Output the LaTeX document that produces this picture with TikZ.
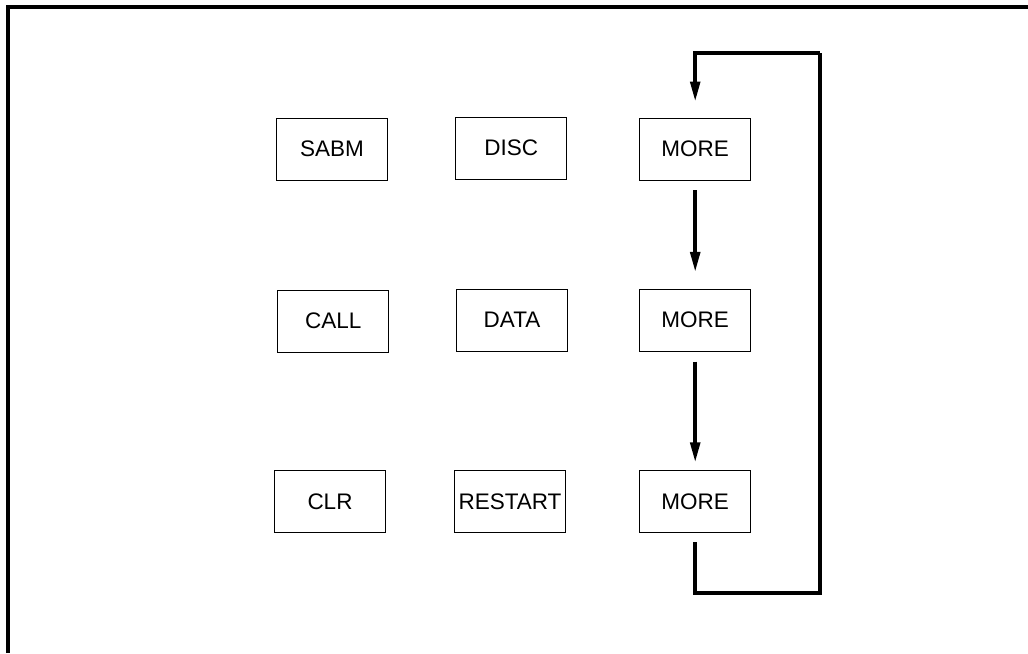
\documentclass[tikz,border=0pt]{standalone}
\usepackage{fontspec}
\setmainfont{Liberation Sans}
\usetikzlibrary{arrows.meta}

\begin{document}
\begin{tikzpicture}[
    key/.style={draw, line width=0.6pt, minimum width=2.78cm, minimum height=1.55cm,
                inner sep=0pt, font=\fontsize{16}{19}\selectfont},
    flow/.style={line width=2.6pt, -{Triangle[length=0.5cm, width=0.24cm]}},
    loopline/.style={line width=2.6pt}
  ]
    \useasboundingbox (0,0) rectangle (25.7,16.325);
    % Frame
    \draw[line width=2.2pt] (0.2,0) -- (0.2,16.15) -- (25.7,16.15);

    % Nodes
    \node[key] (sabm) at (8.3, 12.6) {SABM};
    \node[key] (disc) at (12.78, 12.62) {DISC};
    \node[key] (more1) at (17.38, 12.6) {MORE};
    \node[key] (call) at (8.33, 8.3) {CALL};
    \node[key] (data) at (12.8, 8.32) {DATA};
    \node[key] (more2) at (17.38, 8.32) {MORE};
    \node[key] (clr) at (8.25, 3.78) {CLR};
    \node[key] (restart) at (12.75, 3.78) {RESTART};
    \node[key] (more3) at (17.38, 3.78) {MORE};
    \coordinate (loopbr) at (20.5, 1.5);
    \coordinate (looptr) at (20.5, 15.0);

    % Arrows
    \draw[flow, shorten <=0.25cm, shorten >=0.42cm] (more1) -- (more2);
    \draw[flow, shorten <=0.25cm, shorten >=0.2cm] (more2) -- (more3);
    \draw[loopline] ([yshift=-0.23cm]more3.south) |- (loopbr) -- (looptr);
    \draw[flow] (looptr) -| ([yshift=0.4cm]more1.north);
\end{tikzpicture}
\end{document}
